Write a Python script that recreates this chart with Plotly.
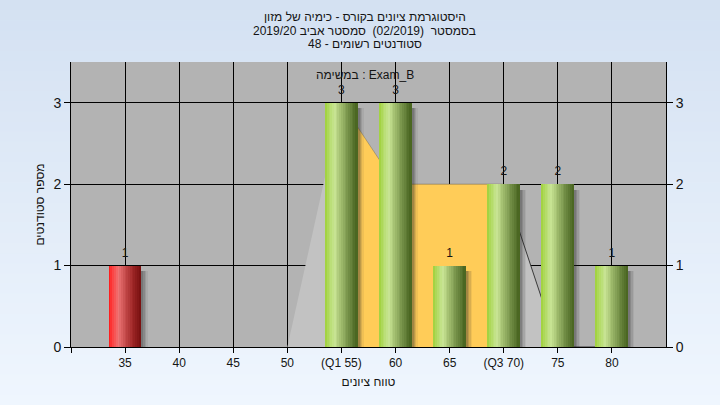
import plotly.graph_objects as go

# ---------------- data ----------------
grades = [35, 40, 45, 50, 55, 60, 65, 70, 75, 80]
tick_labels = ["35", "40", "45", "50", "(Q1 55)", "60", "65", "(Q3 70)", "75", "80"]
counts = [1, 0, 0, 0, 3, 3, 1, 2, 2, 1]
area_y = [0, 0, 0, 0, 3, 2, 2, 2, 0, 0]
q1 = 55
q3 = 70
pass_grade = 55

title_lines = ["היסטוגרמת ציונים בקורס - כימיה של מזון",
               "בסמסטר\u00a0\u00a0(02/2019)\u00a0\u00a0סמסטר אביב 2019/20",
               "סטודנטים רשומים - 48"]
inner_label = "במשימה : Exam_B"
x_title = "טווח ציונים"
y_title = "מספר סטודנטים"

# ---------------- style ----------------
FONT = "Liberation Sans Narrow, Liberation Sans, Arial, sans-serif"
TXT = "#141414"
BAR_W = 2.95
ML, MR, MT, MB = 71, 54, 62, 58
PH = 405 - MT - MB
green_stops = [(0.0, (158, 208, 56)), (0.1, (176, 218, 96)), (0.3, (200, 228, 148)),
               (0.5, (160, 188, 110)), (0.75, (112, 140, 68)), (1.0, (70, 98, 30))]
red_stops = [(0.0, (255, 20, 20)), (0.14, (250, 70, 70)), (0.3, (238, 118, 118)),
             (0.5, (200, 78, 78)), (0.75, (160, 40, 40)), (1.0, (118, 14, 14))]


def interp(stops, t):
    for (t0, c0), (t1, c1) in zip(stops[:-1], stops[1:]):
        if t <= t1:
            f = (t - t0) / (t1 - t0) if t1 > t0 else 0
            c = [round(a + (b - a) * f) for a, b in zip(c0, c1)]
            return "rgb(%d,%d,%d)" % tuple(c)
    return "rgb(%d,%d,%d)" % stops[-1][1]


def py(px):
    """pixel row (from top of figure) -> paper y coordinate"""
    return 1 - (px - MT) / PH


fig = go.Figure()

# area (whole) in light gray - main subplot (drawn first)
fig.add_trace(go.Scatter(x=grades, y=area_y, mode="lines", fill="tozeroy",
                         fillcolor="#c2c2c2", line=dict(width=0), hoverinfo="skip"))
# area between Q1 and Q3 in orange
ix = [i for i, g in enumerate(grades) if q1 <= g <= q3]
fig.add_trace(go.Scatter(x=[grades[i] for i in ix], y=[area_y[i] for i in ix], mode="lines",
                         fill="tozeroy", fillcolor="#ffcc58",
                         line=dict(width=0.6, color="rgba(90,80,50,0.6)"), hoverinfo="skip"))
# line after Q3
jx = [i for i, g in enumerate(grades) if g >= q3]
fig.add_trace(go.Scatter(x=[grades[i] for i in jx], y=[area_y[i] for i in jx], mode="lines",
                         line=dict(width=1, color="#3a3a3a"), hoverinfo="skip"))

# shadows (overlay subplot, above the area)
for off, alpha in [(0.2, 0.18), (0.33, 0.15), (0.46, 0.11), (0.6, 0.07)]:
    fig.add_trace(go.Bar(x=grades, y=[max(c - 0.07, 0) if c else 0 for c in counts],
                         width=BAR_W, offset=-BAR_W / 2 + off, yaxis="y2",
                         marker=dict(color="rgba(40,40,40,%.2f)" % alpha, line=dict(width=0)),
                         hoverinfo="skip"))

# gradient bars built from slices
N = 18
sw = BAR_W / N
for k in range(N):
    t = (k + 0.5) / N
    cols = [interp(red_stops if g < pass_grade else green_stops, t) for g in grades]
    fig.add_trace(go.Bar(x=grades, y=counts, width=sw * 1.08, offset=-BAR_W / 2 + k * sw,
                         yaxis="y2",
                         marker=dict(color=cols, line=dict(width=0)), hoverinfo="skip"))

# value labels
lx = [g for g, c in zip(grades, counts) if c > 0]
ly = [c for c in counts if c > 0]
fig.add_trace(go.Scatter(x=lx, y=ly, mode="markers+text", text=[str(c) for c in ly],
                         textposition="top center", yaxis="y2",
                         marker=dict(size=8, opacity=0),
                         textfont=dict(family=FONT, size=12, color=TXT), hoverinfo="skip"))

# background gradient + plot area
shapes = []
y_lo = -MB / PH
y_hi = 1 + MT / PH
n_strips = 40
c_top = (212, 225, 242)
c_bot = (239, 246, 254)
for i in range(n_strips):
    f = i / (n_strips - 1)
    c = tuple(round(a + (b - a) * f) for a, b in zip(c_top, c_bot))
    y1 = y_hi - (y_hi - y_lo) * i / n_strips
    y0 = y_hi - (y_hi - y_lo) * (i + 1) / n_strips - 0.002
    shapes.append(dict(type="rect", xref="paper", yref="paper", x0=-0.2, x1=1.2,
                       y0=y0, y1=y1, fillcolor="rgb(%d,%d,%d)" % c, line=dict(width=0),
                       layer="below"))
shapes.append(dict(type="rect", xref="paper", yref="paper", x0=0, x1=1, y0=0, y1=1,
                   fillcolor="#b3b3b3", line=dict(width=0), layer="below"))

annotations = []
for line, ypx in zip(title_lines, [17, 30.5, 44]):
    annotations.append(dict(text=line, xref="paper", yref="paper", x=0.494, y=py(ypx),
                            yanchor="middle", xanchor="center", showarrow=False,
                            font=dict(family=FONT, size=12, color=TXT)))
annotations.append(dict(text=inner_label, xref="paper", yref="paper", x=0.494, y=py(75),
                        yanchor="middle", showarrow=False,
                        font=dict(family=FONT, size=12, color=TXT)))

fig.update_layout(
    width=720, height=405,
    margin=dict(l=ML, r=MR, t=MT, b=MB, autoexpand=False),
    paper_bgcolor="#e4edf8", plot_bgcolor="#b3b3b3",
    barmode="overlay", bargap=0, showlegend=False,
    shapes=shapes, annotations=annotations,
    font=dict(family=FONT, size=12, color=TXT),
    xaxis=dict(range=[30, 85], tickvals=[30] + grades, ticktext=[""] + tick_labels,
               showgrid=True, gridcolor="#000000", gridwidth=1,
               showline=True, linecolor="#000000", linewidth=1,
               ticks="outside", ticklen=5, tickcolor="#000000",
               zeroline=False, tickfont=dict(size=12, color=TXT), automargin=False,
               title=dict(text=x_title, standoff=8, font=dict(size=12, color=TXT))),
    yaxis=dict(range=[0, 3.5], tickvals=[0, 1, 2, 3],
               showgrid=True, gridcolor="#000000", gridwidth=1,
               showline=True, linecolor="#000000", linewidth=1,
               ticks="outside", ticklen=6, tickcolor="#000000",
               zeroline=False, tickfont=dict(size=14, color=TXT), automargin=False,
               title=dict(text=y_title, standoff=6, font=dict(size=12, color=TXT))),
    yaxis2=dict(range=[0, 3.5], tickvals=[0, 1, 2, 3], overlaying="y", side="right",
                showgrid=False, showline=True, linecolor="#000000", linewidth=1,
                ticks="outside", ticklen=6, tickcolor="#000000", zeroline=False,
                automargin=False, tickfont=dict(size=14, color=TXT)),
)

fig.write_html("out.html", config={"displayModeBar": False},
               post_script="document.body.style.margin='0';")
